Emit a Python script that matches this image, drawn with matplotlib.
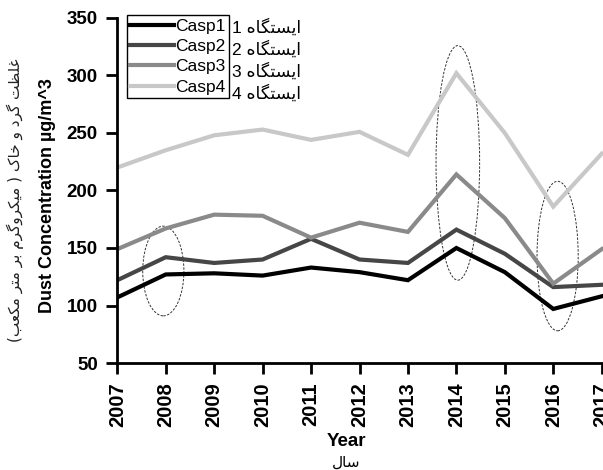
import matplotlib
matplotlib.use("Agg")
import matplotlib.pyplot as plt
from matplotlib.patches import Ellipse

# ---- data -------------------------------------------------------------
years = list(range(2007, 2018))
casp1 = [107, 127, 128, 126, 133, 129, 122, 150, 129, 97, 108]
casp2 = [122, 142, 137, 140, 158, 140, 137, 166, 145, 116, 118]
casp3 = [149, 167, 179, 178, 159, 172, 164, 214, 176, 119, 149]
casp4 = [220, 235, 248, 253, 244, 251, 231, 302, 250, 186, 232]
series_names = ["Casp1", "Casp2", "Casp3", "Casp4"]
station_word = "ایستگاه"
y_ticks = [50, 100, 150, 200, 250, 300, 350]

# highlighted years (center year, center value, width in years, height in value)
highlights = [
    (2007.95, 130, 0.85, 78),
    (2014.03, 224, 0.90, 204),
    (2016.09, 143, 0.85, 130),
]

# ---- minimal Arabic/Persian shaping for display ------------------------
FORMS = {  # isolated, final, initial, medial
    "ا": ("\uFE8D", "\uFE8E", None, None),
    "ب": ("\uFE8F", "\uFE90", "\uFE91", "\uFE92"),
    "ت": ("\uFE95", "\uFE96", "\uFE97", "\uFE98"),
    "خ": ("\uFEA5", "\uFEA6", "\uFEA7", "\uFEA8"),
    "د": ("\uFEA9", "\uFEAA", None, None),
    "ر": ("\uFEAD", "\uFEAE", None, None),
    "س": ("\uFEB1", "\uFEB2", "\uFEB3", "\uFEB4"),
    "ظ": ("\uFEC5", "\uFEC6", "\uFEC7", "\uFEC8"),
    "ع": ("\uFEC9", "\uFECA", "\uFECB", "\uFECC"),
    "غ": ("\uFECD", "\uFECE", "\uFECF", "\uFED0"),
    "ل": ("\uFEDD", "\uFEDE", "\uFEDF", "\uFEE0"),
    "م": ("\uFEE1", "\uFEE2", "\uFEE3", "\uFEE4"),
    "ه": ("\uFEE9", "\uFEEA", "\uFEEB", "\uFEEC"),
    "و": ("\uFEED", "\uFEEE", None, None),
    "ی": ("\uFBFC", "\uFBFD", "\uFBFE", "\uFBFF"),
    "ک": ("\uFB8E", "\uFB8F", "\uFB90", "\uFB91"),
    "گ": ("\uFB92", "\uFB93", "\uFB94", "\uFB95"),
}
MIRROR = {"(": ")", ")": "("}


def _dual(c):
    return c in FORMS and FORMS[c][2] is not None


def rtl(text):
    out = []
    for i, c in enumerate(text):
        if c not in FORMS:
            out.append(MIRROR.get(c, c))
            continue
        prev = text[i - 1] if i > 0 else ""
        nxt = text[i + 1] if i + 1 < len(text) else ""
        join_prev = _dual(prev)
        join_next = _dual(c) and nxt in FORMS
        iso, fin, ini, med = FORMS[c]
        if join_prev and join_next:
            out.append(med)
        elif join_prev:
            out.append(fin)
        elif join_next:
            out.append(ini)
        else:
            out.append(iso)
    return "".join(reversed(out))


# ---- figure -------------------------------------------------------------
W, H = 603, 470
fig = plt.figure(figsize=(W / 100, H / 100), dpi=100)
fig.patch.set_facecolor("white")

x_left, x_right = 2007, 2017.2
ax = fig.add_axes([117.3 / W, 107 / H, (x_right - x_left) * 48.44 / W, 345 / H])

colors = ["#000000", "#464646", "#8a8a8a", "#c8c8c8"]
lines = []
for vals, name, col in zip([casp1, casp2, casp3, casp4], series_names, colors):
    (ln,) = ax.plot(years, vals, color=col, lw=3.0, solid_joinstyle="miter",
                    label=name)
    lines.append(ln)

for cx, cy, w, h in highlights:
    ax.add_patch(Ellipse((cx, cy), w, h, fill=False, ec="#333333",
                         lw=0.7, ls=(0, (2.5, 1.5))))

ax.set_xlim(x_left, x_right)
ax.set_ylim(50, 350)
ax.set_xticks(years)
ax.set_xticklabels([str(y) for y in years], rotation=90,
                   fontfamily="Liberation Sans", fontweight="bold", fontsize=14.5)
ax.set_yticks(y_ticks)
ax.set_yticklabels([str(v) for v in y_ticks],
                   fontfamily="Liberation Sans", fontweight="bold", fontsize=13.5)

for s in ["top", "right"]:
    ax.spines[s].set_visible(False)
for s in ["left", "bottom"]:
    ax.spines[s].set_linewidth(2.0)
    ax.spines[s].set_color("black")
ax.tick_params(axis="both", direction="out", length=8, width=2.0, color="black")
ax.tick_params(axis="y", pad=6)
ax.tick_params(axis="x", pad=6)

leg = ax.legend(handles=lines, loc="upper left",
                bbox_to_anchor=(126.7 / W, 1 - 15 / H), bbox_transform=fig.transFigure,
                prop={"family": "Liberation Sans", "size": 12.5},
                frameon=True, fancybox=False, edgecolor="black", framealpha=1,
                borderaxespad=0, borderpad=0.2, handlelength=2.55,
                handletextpad=0.02, labelspacing=0.3)
leg.get_frame().set_linewidth(1.0)

# station labels beside the legend
row_y = [26.7, 49, 70.7, 92.7]
for k, yy in enumerate(row_y):
    fig.text(232 / W, 1 - yy / H, f"{k + 1} " + rtl(station_word),
             ha="left", va="center", fontsize=12.5,
             family=["Liberation Sans", "DejaVu Sans"])

# axis titles
fig.text(47 / W, 1 - 196 / H, "Dust Concentration µg/m^3", rotation=90,
         ha="center", va="center", fontsize=13, fontweight="bold",
         family="Liberation Sans")
fig.text(15 / W, 1 - 200 / H, rtl("غلظت گرد و خاک ( میکروگرم بر متر مکعب)"),
         rotation=90, ha="center", va="center", fontsize=11, color="#222222",
         family=["DejaVu Sans"])
fig.text(346 / W, 1 - 441 / H, "Year", ha="center", va="center",
         fontsize=13.5, fontweight="bold", family="Liberation Sans")
fig.text(346 / W, 1 - 462 / H, rtl("سال"), ha="center", va="center",
         fontsize=11, family=["DejaVu Sans"])

fig.savefig("out.png", dpi=100)
